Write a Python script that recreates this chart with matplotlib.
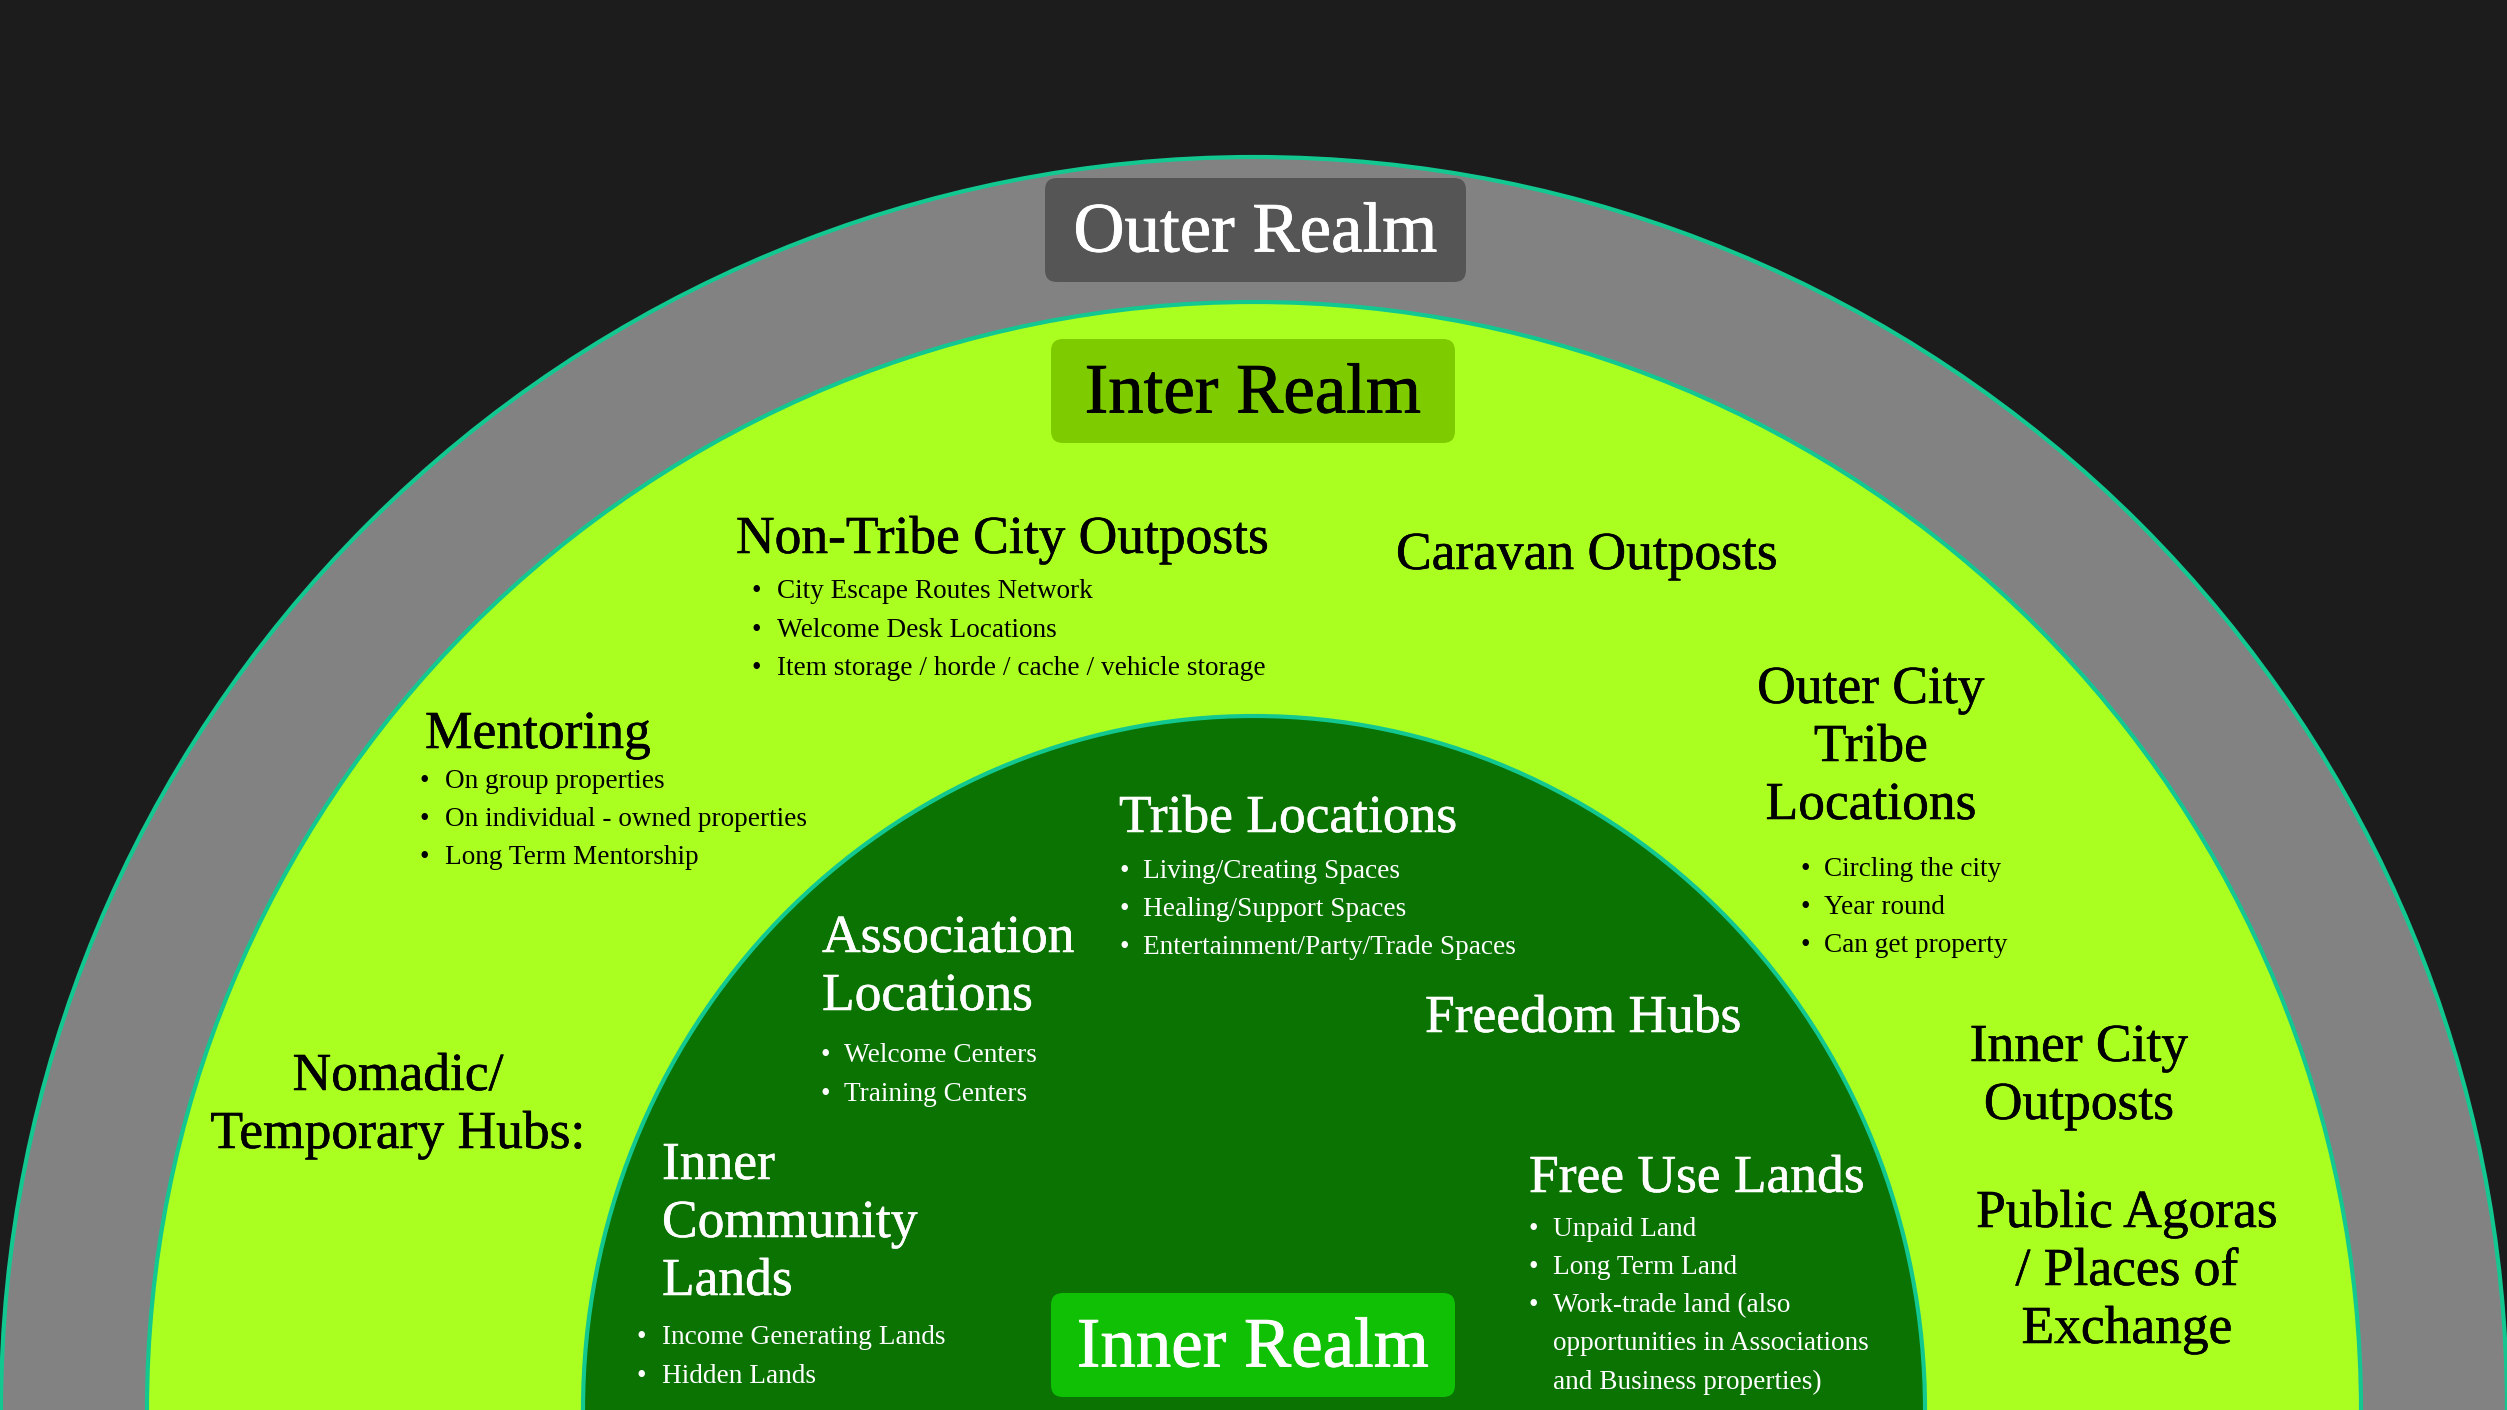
import matplotlib.pyplot as plt
import matplotlib.patheffects as pe
from matplotlib.patches import Ellipse, FancyBboxPatch

# realm titles
realm_titles = ["Outer Realm", "Inter Realm", "Inner Realm"]

# headings and bullet lists of the middle (inter) ring
inter_headings = [
    "Non-Tribe City Outposts",
    "Caravan Outposts",
    "Mentoring",
    "Outer City\nTribe\nLocations",
    "Nomadic/\nTemporary Hubs:",
    "Inner City\nOutposts",
    "Public Agoras\n/ Places of\nExchange",
]
inter_bullets = [
    ["City Escape Routes Network", "Welcome Desk Locations",
     "Item storage / horde / cache / vehicle storage"],
    [],
    ["On group properties", "On individual - owned properties", "Long Term Mentorship"],
    ["Circling the city", "Year round", "Can get property"],
    [],
    [],
    [],
]

# headings and bullet lists of the inner ring
inner_headings = [
    "Tribe Locations",
    "Association\nLocations",
    "Freedom Hubs",
    "Inner\nCommunity\nLands",
    "Free Use Lands",
]
inner_bullets = [
    ["Living/Creating Spaces", "Healing/Support Spaces", "Entertainment/Party/Trade Spaces"],
    ["Welcome Centers", "Training Centers"],
    [],
    ["Income Generating Lands", "Hidden Lands"],
    ["Unpaid Land", "Long Term Land",
     "Work-trade land (also\nopportunities in Associations\nand Business properties)"],
]

W, H = 2507, 1410
CX = 1254

# ring semi-axes (x, y) in pixels, drawn from the outside in
ring_axes = [(1253, 1253), (1107, 1108), (671, 694)]
ring_colors = ["#828282", "#aaff21", "#0a7302"]
EDGE = "#12c890"

# layout: (x, y of heading, align, bullet x, text x, y of first bullet)
inter_layout = [
    (736, 536, "left", 756, 777, 588),
    (1396, 552, "left", 0, 0, 0),
    (425, 731, "left", 424, 445, 777),
    (1871, 686, "center", 1805, 1824, 865),
    (398, 1073, "center", 0, 0, 0),
    (2079, 1044, "center", 0, 0, 0),
    (2127, 1210, "center", 0, 0, 0),
]
inner_layout = [
    (1119, 815, "left", 1124, 1143, 867),
    (822, 935, "left", 825, 844, 1052),
    (1425, 1015, "left", 0, 0, 0),
    (662, 1162, "left", 641, 662, 1334),
    (1529, 1175, "left", 1533, 1553, 1225),
]

title_boxes = [  # x0, y0, x1, y1, face, text colour
    (1045, 178, 1466, 282, "#555555", "white"),
    (1051, 339, 1455, 443, "#7ecb00", "black"),
    (1051, 1293, 1455, 1397, "#10c005", "white"),
]

FONT = "Liberation Serif"
HEAD_SIZE = 38.5
BULLET_SIZE = 19.6
TITLE_SIZE = 51
HEAD_STEP = 58
BULLET_STEP = 38.3
DY = 4  # nudge text down a little to match the reference


def heavy(color, w):
    return [pe.withStroke(linewidth=w, foreground=color)]


fig = plt.figure(figsize=(W / 100, H / 100), dpi=100)
fig.patch.set_facecolor("#1c1c1c")
ax = fig.add_axes([0, 0, 1, 1])
ax.set_xlim(0, W)
ax.set_ylim(H, 0)
ax.axis("off")

for (rx, ry), col in zip(ring_axes, ring_colors):
    ax.add_patch(Ellipse((CX, H), 2 * rx, 2 * ry, facecolor=col,
                         edgecolor=EDGE, linewidth=3))

for title, (x0, y0, x1, y1, face, tc) in zip(realm_titles, title_boxes):
    ax.add_patch(FancyBboxPatch((x0, y0), x1 - x0, y1 - y0,
                                boxstyle="round,pad=0,rounding_size=12",
                                facecolor=face, edgecolor="none"))
    ax.text((x0 + x1) / 2, (y0 + y1) / 2 + DY, title, color=tc, fontsize=TITLE_SIZE,
            family=FONT, ha="center", va="center", path_effects=heavy(tc, 0.6))


def draw_section(heading, bullets, layout, color):
    x, y, align, bx, tx, by = layout
    for i, line in enumerate(heading.split("\n")):
        ax.text(x, y + DY + i * HEAD_STEP, line, color=color, fontsize=HEAD_SIZE,
                family=FONT, ha=align, va="center", path_effects=heavy(color, 0.4))
    row = 0
    for item in bullets:
        for j, line in enumerate(item.split("\n")):
            yy = by + DY + row * BULLET_STEP
            if j == 0:
                ax.text(bx, yy, "\u2022", color=color, fontsize=BULLET_SIZE,
                        family=FONT, ha="center", va="center")
            ax.text(tx, yy, line, color=color, fontsize=BULLET_SIZE,
                    family=FONT, ha="left", va="center")
            row += 1


for head, items, lay in zip(inter_headings, inter_bullets, inter_layout):
    draw_section(head, items, lay, "black")

for head, items, lay in zip(inner_headings, inner_bullets, inner_layout):
    draw_section(head, items, lay, "white")

fig.savefig("out.png", dpi=100, facecolor=fig.get_facecolor())
